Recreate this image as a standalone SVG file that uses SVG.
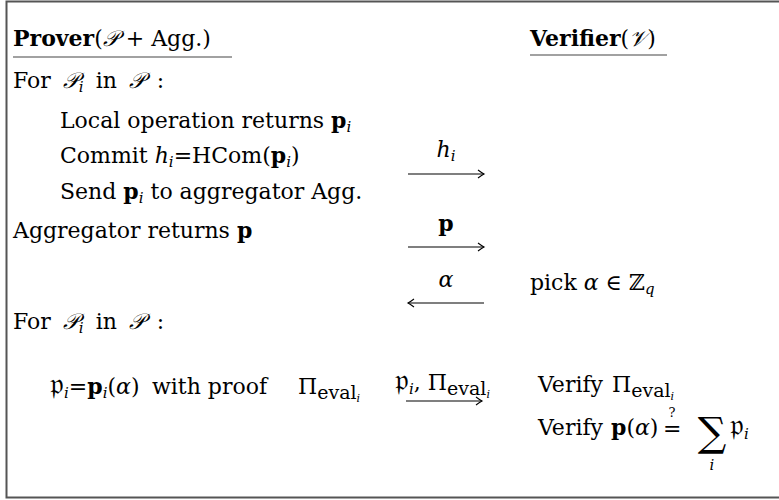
<svg xmlns="http://www.w3.org/2000/svg" width="779" height="500" viewBox="0 0 779 500">
<style>
text{font-family:"DejaVu Serif","Liberation Serif",serif;font-size:22px;fill:#000}
.b{font-weight:bold}
.i{font-style:italic}
.s{font-size:15px}
.e{font-size:19px}
.ss{font-size:11px}
.f{font-size:30px}
.ln{stroke:#000;stroke-width:1.1;fill:none}
.ul{stroke:#444;stroke-width:1.2}
</style>
<defs>
<marker id="ah" markerUnits="userSpaceOnUse" markerWidth="12" markerHeight="12" refX="0" refY="0" viewBox="-8 -6 10 12" orient="auto" overflow="visible">
<path d="M-6,-4 Q-2,-1 0,0 Q-2,1 -6,4" fill="none" stroke="#000" stroke-width="1.1"/>
</marker>
</defs>
<rect x="6.5" y="1.5" width="780" height="496" fill="#fff" stroke="#555" stroke-width="2"/>
<g id="prover-header">
<text x="13" y="46"><tspan class="b">Prover</tspan>(<tspan class="i">𝒫</tspan> + Agg.)</text>
<line class="ul" x1="13" y1="57" x2="232" y2="57"/>
</g>
<g id="verifier-header">
<text x="530" y="46"><tspan class="b">Verifier</tspan>(<tspan class="i">𝒱</tspan>)</text>
<line class="ul" x1="530" y1="55" x2="667" y2="55"/>
</g>
<g id="prover-steps">
<text x="13" y="88" word-spacing="5">For <tspan class="i">𝒫</tspan><tspan class="s i" dy="4">i</tspan><tspan dy="-4"> in </tspan><tspan class="i">𝒫</tspan> :</text>
<text x="60" y="128">Local operation returns <tspan class="b">p</tspan><tspan class="s i" dy="4">i</tspan></text>
<text x="60" y="163">Commit <tspan class="i">h</tspan><tspan class="s i" dy="4">i</tspan><tspan dy="-4">=HCom(</tspan><tspan class="b">p</tspan><tspan class="s i" dy="4">i</tspan><tspan dy="-4">)</tspan></text>
<text x="60" y="199">Send <tspan class="b">p</tspan><tspan class="s i" dy="4">i</tspan><tspan dy="-4"> to aggregator Agg.</tspan></text>
<text x="13" y="238">Aggregator returns <tspan class="b">p</tspan></text>
<text x="13" y="329" word-spacing="5">For <tspan class="i">𝒫</tspan><tspan class="s i" dy="4">i</tspan><tspan dy="-4"> in </tspan><tspan class="i">𝒫</tspan> :</text>
<text x="50" y="394"><tspan class="f">𝔭</tspan><tspan class="s i" dy="4">i</tspan><tspan dy="-4">=</tspan><tspan class="b">p</tspan><tspan class="s i" dy="4">i</tspan><tspan dy="-4">(</tspan><tspan class="i">α</tspan>)<tspan x="152">with proof</tspan><tspan x="298">Π</tspan><tspan class="e" dy="5">eval</tspan><tspan class="ss i" dy="3">i</tspan></text>
</g>
<g id="verifier-steps">
<text x="530" y="290">pick <tspan class="i">α</tspan> ∈ ℤ<tspan class="s i" dy="4">q</tspan></text>
<text x="538" y="392">Verify <tspan x="612">Π</tspan><tspan class="e" dy="5">eval</tspan><tspan class="ss i" dy="3">i</tspan></text>
<text x="538" y="435">Verify <tspan x="611" class="b">p</tspan>(<tspan class="i">α</tspan>)</text>
<text x="663" y="436">=</text>
<text x="672" y="417" style="font-size:13px" text-anchor="middle">?</text>
<text x="712" y="446" style="font-size:40px" text-anchor="middle">∑</text>
<text x="712" y="470" class="s i" text-anchor="middle">i</text>
<text x="730" y="435"><tspan class="f">𝔭</tspan><tspan class="s i" dy="4">i</tspan></text>
</g>
<g id="connectors">
<line class="ln" x1="408" y1="174" x2="484" y2="174" marker-end="url(#ah)"/>
<text x="446" y="157" text-anchor="middle"><tspan class="i">h</tspan><tspan class="s i" dy="4">i</tspan></text>
<line class="ln" x1="408" y1="247" x2="484" y2="247" marker-end="url(#ah)"/>
<text x="446" y="231" text-anchor="middle" class="b">p</text>
<line class="ln" x1="484" y1="303" x2="408" y2="303" marker-end="url(#ah)"/>
<text x="446" y="287" text-anchor="middle" class="i">α</text>
<line class="ln" x1="406" y1="401" x2="482" y2="401" marker-end="url(#ah)"/>
<text x="395" y="390"><tspan class="f">𝔭</tspan><tspan class="s i" dy="4">i</tspan><tspan dy="-4">, Π</tspan><tspan class="e" dy="5">eval</tspan><tspan class="ss i" dy="3">i</tspan></text>
</g>
</svg>
